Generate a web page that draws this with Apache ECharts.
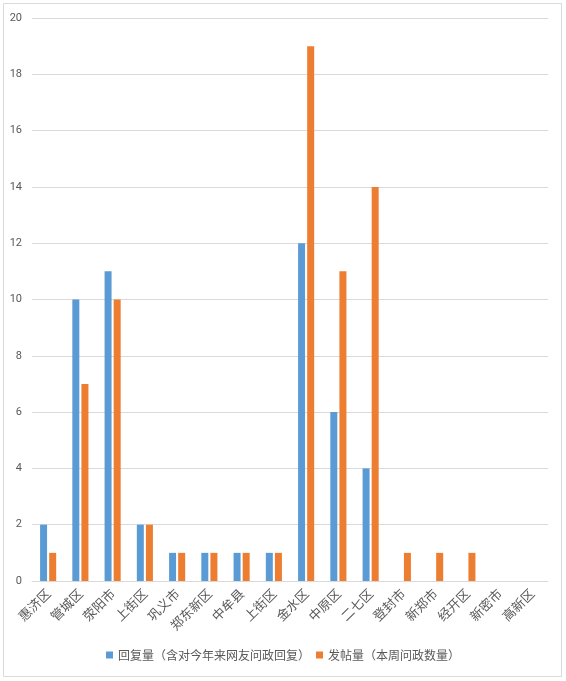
<!DOCTYPE html>
<html><head><meta charset="utf-8">
<script src="https://cdn.jsdelivr.net/npm/echarts@6/dist/echarts.min.js"></script>
<style>html,body{margin:0;padding:0;background:#fff}#c{width:566px;height:681px}</style>
</head><body><div id="c"></div>
<script>
const categories = ['惠济区','管城区','荥阳市','上街区','巩义市','郑东新区','中牟县','上街区','金水区','中原区','二七区','登封市','新郑市','经开区','新密市','高新区'];
const replies = [2,10,11,2,1,1,1,1,12,6,4,0,0,0,0,0];
const posts = [1,7,10,2,1,1,1,1,19,11,14,1,1,1,0,0];
const seriesNames = ['回复量（含对今年来网友问政回复）','发帖量（本周问政数量）'];
const yTicks = {min:0,max:20,interval:2};

const chart = echarts.init(document.getElementById('c'));
chart.setOption({
  animation:false,
  textStyle:{fontFamily:'"Noto Sans CJK SC", sans-serif'},
  graphic:[{type:'rect',shape:{x:3.5,y:3.5,width:558,height:673},style:{fill:'none',stroke:'#d9d9d9',lineWidth:1}}],
  grid:{left:32,right:18,top:18,bottom:100,containLabel:false},
  legend:{bottom:15,left:'center',itemWidth:7,itemHeight:7,itemGap:6,icon:'rect',
    textStyle:{color:'#595959',fontSize:12,fontFamily:'"Noto Sans CJK SC", sans-serif'},data:seriesNames},
  xAxis:{type:'category',data:categories,
    axisLine:{lineStyle:{color:'#d9d9d9'}},axisTick:{show:false},
    axisLabel:{rotate:45,interval:0,color:'#595959',fontSize:13,margin:10,fontFamily:'"Noto Sans CJK SC", sans-serif'}},
  yAxis:{type:'value',min:yTicks.min,max:yTicks.max,interval:yTicks.interval,
    axisLine:{show:false},axisTick:{show:false},
    axisLabel:{color:'#595959',fontSize:11,margin:10,fontFamily:'Roboto, sans-serif'},
    splitLine:{lineStyle:{color:'#d9d9d9'}}},
  series:[
    {name:seriesNames[0],type:'bar',data:replies,barWidth:7,barGap:'30%',itemStyle:{color:'#5b9bd5'}},
    {name:seriesNames[1],type:'bar',data:posts,barWidth:7,itemStyle:{color:'#ed7d31'}}
  ]
});
</script></body></html>
